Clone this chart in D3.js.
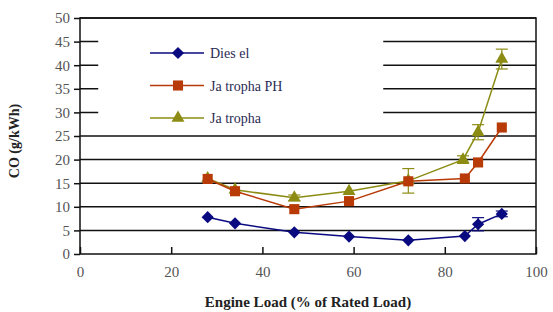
<!DOCTYPE html>
<html>
<head>
<meta charset="utf-8">
<script src="https://cdn.jsdelivr.net/npm/d3@7"></script>
<style>
  body { margin: 0; background: #fff; }
  svg text { font-family: "Liberation Serif", "DejaVu Serif", "Times New Roman", serif !important; }
</style>
</head>
<body>
<div class="visHolder"></div>
<script>
var width = 553,
    height = 312;

var loads = [28, 34, 47, 59, 72, 84.4, 87.3, 92.5];
var dieselCO = [7.8, 6.5, 4.6, 3.7, 2.9, 3.8, 6.3, 8.5];
var dieselErr = [0.4, 0.4, 0.3, 0.3, 0.3, 0.5, 1.4, 0.6];
var jphLoads = [28, 34, 47, 59, 72, 84.4, 87.3, 92.5];
var jphCO = [15.9, 13.3, 9.5, 11.2, 15.4, 16.0, 19.4, 26.8];
var jphErr = [0.4, 0.4, 0.4, 0.4, 0.5, 0.4, 0.5, 0.4];
var jLoads = [28, 34, 47, 59, 72, 84, 87.3, 92.5];
var jCO = [16.0, 13.6, 11.9, 13.3, 15.5, 20.0, 25.8, 41.3];
var jErr = [0.4, 0.4, 0.6, 0.5, 2.6, 0.8, 1.6, 2.1];
var xTicks = [0, 20, 40, 60, 80, 100];
var yTicks = [0, 5, 10, 15, 20, 25, 30, 35, 40, 45, 50];

var series = [
    { name: 'Dies el', x: loads, y: dieselCO, err: dieselErr, color: '#0a0a80', shape: 'diamond' },
    { name: 'Ja tropha PH', x: jphLoads, y: jphCO, err: jphErr, color: '#b83a06', shape: 'square' },
    { name: 'Ja tropha', x: jLoads, y: jCO, err: jErr, color: '#8c8c14', shape: 'triangle' }
];

var serif = '"Liberation Serif", "DejaVu Serif", "Times New Roman", serif';

var margin = { left: 80, right: 17, top: 18, bottom: 58 };

var xScale = d3.scaleLinear().domain([0, 100]).range([margin.left, width - margin.right]);
var yScale = d3.scaleLinear().domain([0, 50]).range([height - margin.bottom, margin.top]);

var svg = d3.select('.visHolder')
    .append('svg')
    .attr('width', width)
    .attr('height', height)
    .style('font-family', serif);

// horizontal grid lines
svg.append('g')
    .selectAll('line')
    .data(yTicks.slice(1))
    .enter()
    .append('line')
    .attr('x1', xScale(0))
    .attr('x2', xScale(100))
    .attr('y1', function (d) { return yScale(d); })
    .attr('y2', function (d) { return yScale(d); })
    .attr('stroke', '#111')
    .attr('stroke-width', 1.5);

// legend background hides part of grid
svg.append('rect')
    .attr('x', xScale(4))
    .attr('y', yScale(47.5))
    .attr('width', xScale(66.5) - xScale(4))
    .attr('height', yScale(25.7) - yScale(47.5))
    .attr('fill', '#fff');

// frame
svg.append('rect')
    .attr('x', xScale(0))
    .attr('y', yScale(50))
    .attr('width', xScale(100) - xScale(0))
    .attr('height', yScale(0) - yScale(50))
    .attr('fill', 'none')
    .attr('stroke', '#111')
    .attr('stroke-width', 1.5);

// axes
var xAxis = d3.axisBottom(xScale).tickValues(xTicks).tickSize(-7).tickPadding(12);
svg.append('g')
    .attr('transform', 'translate(0,' + yScale(0) + ')')
    .call(xAxis)
    .call(function (g) {
        g.attr('font-family', null);
        g.select('.domain').remove();
        g.selectAll('line').attr('stroke', '#111').attr('stroke-width', 1.5);
        g.selectAll('text').attr('font-size', 15).attr('fill', '#555')
            .style('font-family', serif);
    });

var yAxis = d3.axisLeft(yScale).tickValues(yTicks).tickSize(6).tickPadding(4);
svg.append('g')
    .attr('transform', 'translate(' + xScale(0) + ',0)')
    .call(yAxis)
    .call(function (g) {
        g.attr('font-family', null);
        g.select('.domain').remove();
        g.selectAll('line').attr('stroke', '#111').attr('stroke-width', 1.5);
        g.selectAll('text').attr('font-size', 15).attr('fill', '#555')
            .style('font-family', serif);
    });

// axis titles
svg.append('text')
    .attr('x', (xScale(0) + xScale(100)) / 2)
    .attr('y', 307)
    .attr('text-anchor', 'middle')
    .attr('font-size', 15)
    .attr('font-weight', 'bold')
    .attr('fill', '#222')
    .style('font-family', serif)
    .text('Engine Load (% of Rated Load)');

svg.append('text')
    .attr('transform', 'rotate(-90)')
    .attr('x', -141)
    .attr('y', 19)
    .attr('text-anchor', 'middle')
    .attr('font-size', 14)
    .attr('font-weight', 'bold')
    .attr('fill', '#222')
    .style('font-family', serif)
    .text('CO (g/kWh)');

function symbolFor(shape) {
    if (shape === 'diamond') return d3.symbol().type(d3.symbolDiamond2).size(95);
    if (shape === 'square') return d3.symbol().type(d3.symbolSquare2).size(130);
    return d3.symbol().type(d3.symbolTriangle2).size(120);
}

// draw series (jatropha first so diesel sits on top)
series.slice().reverse().forEach(function (s) {
    var pts = s.x.map(function (x, i) { return { x: x, y: s.y[i], e: s.err[i] }; });
    var line = d3.line()
        .x(function (d) { return xScale(d.x); })
        .y(function (d) { return yScale(d.y); });

    var g = svg.append('g');

    g.append('path')
        .datum(pts)
        .attr('d', line)
        .attr('fill', 'none')
        .attr('stroke', s.color)
        .attr('stroke-width', 1.5);

    var eb = g.selectAll('.err')
        .data(pts.filter(function (d) { return d.e > 0.5; }))
        .enter()
        .append('g')
        .attr('stroke', s.color)
        .attr('stroke-width', 1.2);
    eb.append('line')
        .attr('x1', function (d) { return xScale(d.x); })
        .attr('x2', function (d) { return xScale(d.x); })
        .attr('y1', function (d) { return yScale(d.y - d.e); })
        .attr('y2', function (d) { return yScale(d.y + d.e); });
    [-1, 1].forEach(function (k) {
        eb.append('line')
            .attr('x1', function (d) { return xScale(d.x) - 6; })
            .attr('x2', function (d) { return xScale(d.x) + 6; })
            .attr('y1', function (d) { return yScale(d.y + k * d.e); })
            .attr('y2', function (d) { return yScale(d.y + k * d.e); });
    });

    g.selectAll('.pt')
        .data(pts)
        .enter()
        .append('path')
        .attr('d', symbolFor(s.shape))
        .attr('transform', function (d) {
            return 'translate(' + xScale(d.x) + ',' + yScale(d.y) + ')';
        })
        .attr('fill', s.color);
});

// legend
var legend = svg.append('g');
series.forEach(function (s, i) {
    var y = 53 + i * 32.5;
    legend.append('line')
        .attr('x1', 150).attr('x2', 204)
        .attr('y1', y).attr('y2', y)
        .attr('stroke', s.color)
        .attr('stroke-width', 1.5);
    legend.append('path')
        .attr('d', symbolFor(s.shape))
        .attr('transform', 'translate(178,' + y + ')')
        .attr('fill', s.color);
    legend.append('text')
        .attr('x', 210)
        .attr('y', y + 5)
        .attr('font-size', 14)
        .attr('fill', '#2a2a55')
        .style('font-family', serif)
        .text(s.name);
});
</script>
</body>
</html>
